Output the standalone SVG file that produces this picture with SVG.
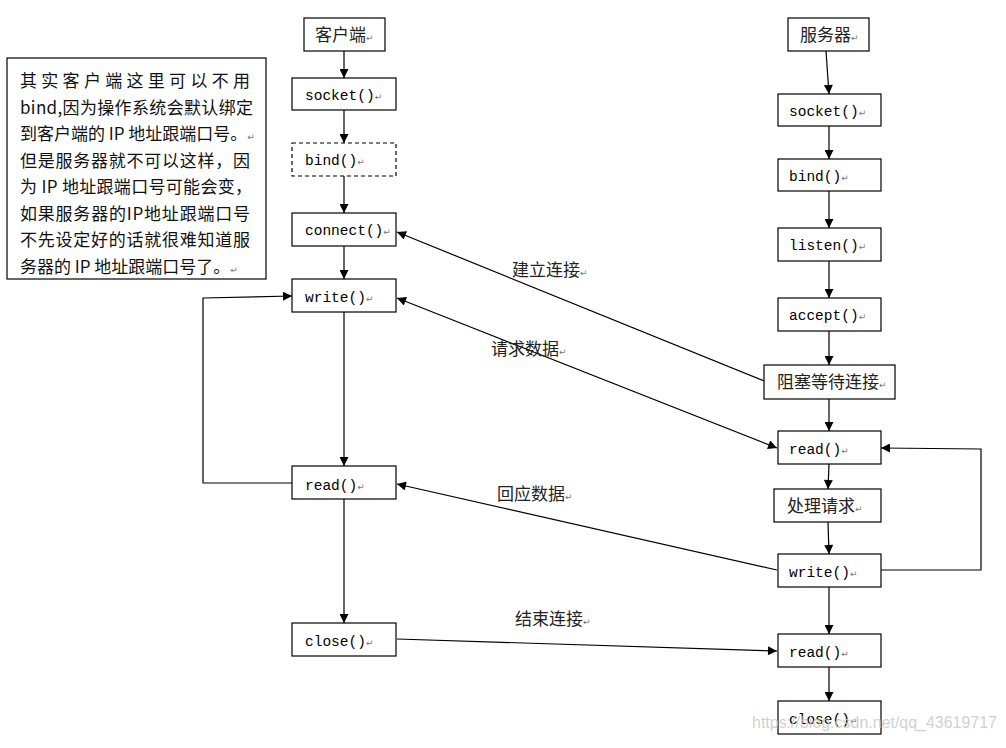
<svg xmlns="http://www.w3.org/2000/svg" width="1006" height="748" viewBox="0 0 1006 748">
<style>
.box{fill:#fff;stroke:#000;stroke-width:1.2}
.dash{stroke-dasharray:4 3}
.mono{font-family:"Liberation Mono","DejaVu Sans Mono",monospace;font-size:14.5px;fill:#000}
.cjk{font-family:"Noto Sans CJK SC","Noto Sans",sans-serif;font-size:17px;fill:#222}
.note{font-family:"Noto Sans CJK SC","Noto Sans",sans-serif;font-size:17px;fill:#111}
.ret{font-family:"DejaVu Sans",sans-serif;font-size:9px;fill:#777}
.conn path{fill:none;stroke:#000;stroke-width:1.2}
.wm{font-family:"Liberation Sans",Arial,sans-serif;font-size:17px;fill:#c8c8c8;fill-opacity:0.85}
</style>
<defs>
<marker id="ah" viewBox="0 0 10 10" refX="10" refY="5" markerWidth="12" markerHeight="9" orient="auto-start-reverse" markerUnits="userSpaceOnUse">
<path d="M0,0 L10,5 L0,10 z" fill="#000"/>
</marker>
</defs>
<rect width="1006" height="748" fill="#fff"/>

<g id="note">
<rect class="box" x="7" y="58" width="259" height="221"/>
<text class="note" x="20" y="87" textLength="230" lengthAdjust="spacing">其实客户端这里可以不用</text>
<text class="note" x="20" y="114" textLength="233" lengthAdjust="spacing">bind,因为操作系统会默认绑定</text>
<text class="note" x="20" y="140">到客户端的 IP 地址跟端口号。<tspan class="ret">↵</tspan></text>
<text class="note" x="20" y="167" textLength="230" lengthAdjust="spacing">但是服务器就不可以这样，因</text>
<text class="note" x="20" y="193" textLength="232" lengthAdjust="spacing">为 IP 地址跟端口号可能会变，</text>
<text class="note" x="20" y="220" textLength="230" lengthAdjust="spacing">如果服务器的IP地址跟端口号</text>
<text class="note" x="20" y="246" textLength="230" lengthAdjust="spacing">不先设定好的话就很难知道服</text>
<text class="note" x="20" y="273">务器的 IP 地址跟端口号了。<tspan class="ret">↵</tspan></text>
</g>

<g id="client">
<rect class="box" x="304" y="18" width="81" height="33"/>
<text class="cjk" x="315" y="41">客户端<tspan class="ret">↵</tspan></text>
</g>
<g id="c_socket">
<rect class="box" x="292" y="78" width="104" height="32"/>
<text class="mono" x="305" y="100">socket()<tspan class="ret">↵</tspan></text>
</g>
<g id="c_bind">
<rect class="box dash" x="292" y="143" width="104" height="33"/>
<text class="mono" x="305" y="165">bind()<tspan class="ret">↵</tspan></text>
</g>
<g id="c_connect">
<rect class="box" x="292" y="213" width="104" height="33"/>
<text class="mono" x="305" y="235">connect()<tspan class="ret">↵</tspan></text>
</g>
<g id="c_write">
<rect class="box" x="292" y="279" width="104" height="33"/>
<text class="mono" x="305" y="302">write()<tspan class="ret">↵</tspan></text>
</g>
<g id="c_read">
<rect class="box" x="292" y="466" width="104" height="33"/>
<text class="mono" x="305" y="490">read()<tspan class="ret">↵</tspan></text>
</g>
<g id="c_close">
<rect class="box" x="292" y="623" width="104" height="33"/>
<text class="mono" x="305" y="646">close()<tspan class="ret">↵</tspan></text>
</g>

<g id="server">
<rect class="box" x="788" y="18" width="81" height="33"/>
<text class="cjk" x="800" y="41">服务器<tspan class="ret">↵</tspan></text>
</g>
<g id="s_socket">
<rect class="box" x="778" y="94" width="103" height="32"/>
<text class="mono" x="789" y="116">socket()<tspan class="ret">↵</tspan></text>
</g>
<g id="s_bind">
<rect class="box" x="778" y="159" width="103" height="32"/>
<text class="mono" x="789" y="181">bind()<tspan class="ret">↵</tspan></text>
</g>
<g id="s_listen">
<rect class="box" x="778" y="228" width="103" height="33"/>
<text class="mono" x="789" y="250">listen()<tspan class="ret">↵</tspan></text>
</g>
<g id="s_accept">
<rect class="box" x="778" y="298" width="103" height="33"/>
<text class="mono" x="789" y="320">accept()<tspan class="ret">↵</tspan></text>
</g>
<g id="s_block">
<rect class="box" x="764" y="365" width="131" height="34"/>
<text class="cjk" x="777" y="388">阻塞等待连接<tspan class="ret">↵</tspan></text>
</g>
<g id="s_read">
<rect class="box" x="778" y="431" width="103" height="33"/>
<text class="mono" x="789" y="454">read()<tspan class="ret">↵</tspan></text>
</g>
<g id="s_proc">
<rect class="box" x="774" y="489" width="107" height="33"/>
<text class="cjk" x="787" y="512">处理请求<tspan class="ret">↵</tspan></text>
</g>
<g id="s_write">
<rect class="box" x="778" y="554" width="103" height="33"/>
<text class="mono" x="789" y="577">write()<tspan class="ret">↵</tspan></text>
</g>
<g id="s_read2">
<rect class="box" x="778" y="634" width="103" height="33"/>
<text class="mono" x="789" y="657">read()<tspan class="ret">↵</tspan></text>
</g>
<g id="s_close">
<rect class="box" x="778" y="701" width="103" height="33"/>
<text class="mono" x="789" y="724">close()<tspan class="ret">↵</tspan></text>
</g>

<g class="conn" id="connectors">
<path d="M344,51 L344,78" marker-end="url(#ah)"/>
<path d="M344,110 L344,143" marker-end="url(#ah)"/>
<path d="M344,176 L344,213" marker-end="url(#ah)"/>
<path d="M344,246 L344,279" marker-end="url(#ah)"/>
<path d="M344,312 L344,466" marker-end="url(#ah)"/>
<path d="M344,499 L344,623" marker-end="url(#ah)"/>
<path d="M292,483 L203,483 L203,298 L292,296" marker-end="url(#ah)"/>

<path d="M826,51 L829,94" marker-end="url(#ah)"/>
<path d="M829,126 L829,159" marker-end="url(#ah)"/>
<path d="M829,191 L829,228" marker-end="url(#ah)"/>
<path d="M829,261 L829,298" marker-end="url(#ah)"/>
<path d="M829,331 L829,365" marker-end="url(#ah)"/>
<path d="M829,399 L829,431" marker-end="url(#ah)"/>
<path d="M829,464 L828,489" marker-end="url(#ah)"/>
<path d="M828,522 L829,554" marker-end="url(#ah)"/>
<path d="M829,587 L829,634" marker-end="url(#ah)"/>
<path d="M829,667 L829,701" marker-end="url(#ah)"/>
<path d="M881,570 L981,570 L981,449 L881,448" marker-end="url(#ah)"/>

<path d="M764,381 L397,232" marker-end="url(#ah)"/>
<path d="M397,298 L777,448" marker-start="url(#ah)" marker-end="url(#ah)"/>
<path d="M777,570 L397,484" marker-end="url(#ah)"/>
<path d="M397,639 L777,651" marker-end="url(#ah)"/>
</g>

<g id="labels">
<text class="cjk" x="512" y="276">建立连接<tspan class="ret">↵</tspan></text>
<text class="cjk" x="491" y="355">请求数据<tspan class="ret">↵</tspan></text>
<text class="cjk" x="497" y="500">回应数据<tspan class="ret">↵</tspan></text>
<text class="cjk" x="515" y="625">结束连接<tspan class="ret">↵</tspan></text>
</g>

<text class="wm" x="752" y="728" textLength="245" lengthAdjust="spacingAndGlyphs">https://blog.csdn.net/qq_43619717</text>
</svg>
